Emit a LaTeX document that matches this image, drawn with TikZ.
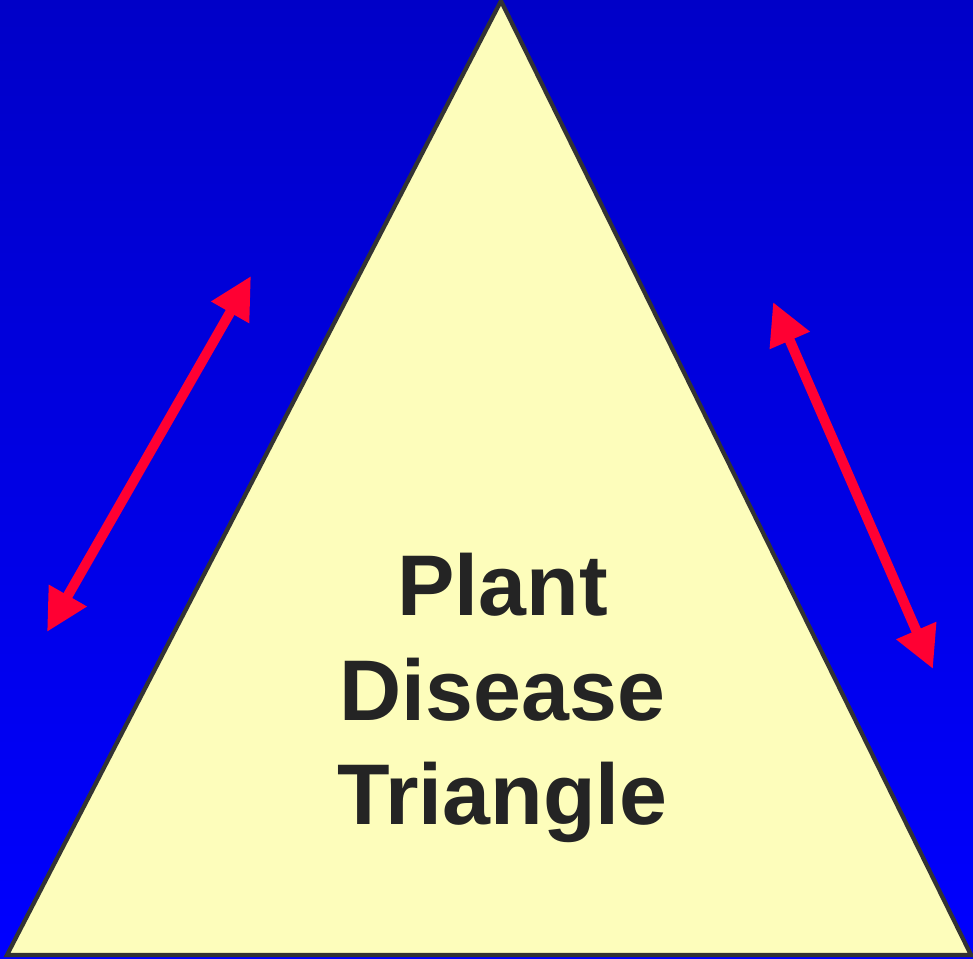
\documentclass[tikz,border=0pt]{standalone}
\usepackage{xcolor}
\usepackage{fontspec}
\setmainfont{Liberation Sans}
\usepackage{tikz}
\usetikzlibrary{arrows.meta, positioning, calc}
\definecolor{bgtop}{RGB}{0,0,200}
\definecolor{bgbot}{RGB}{0,0,255}
\definecolor{trifill}{RGB}{253,253,187}
\definecolor{arrred}{RGB}{255,0,51}
\definecolor{txtgray}{RGB}{36,36,36}
\tikzset{
	trianglebox/.style={draw=black!80, line width=1.2pt, fill=trifill, line join=miter},
	linkarr/.style={{Triangle[length=4.2mm, width=4.1mm]}-{Triangle[length=4.2mm, width=4.1mm]}, line width=1mm, arrred},
}

\begin{document}
\begin{tikzpicture}[
				title/.style={font=\fontsize{24.5}{29.8}\selectfont\bfseries, text=txtgray, align=center, inner sep=0pt}
				]
				\shade[top color=bgtop, bottom color=bgbot] (0,0) rectangle (9.73,9.59);
				\useasboundingbox (0,0) rectangle (9.73,9.59);
				% corners of the triangle
				\coordinate (top) at (5.01,9.58);
				\coordinate (bl) at (0.07,0.04);
				\coordinate (br) at (9.71,0.04);
				\draw[trianglebox] (top) -- (br) -- (bl) -- cycle;
				\node[title, anchor=base] (pdt) at (5.025,1.34) {Plant\\Disease\\Triangle};
				% arrows along the sides
				\coordinate (la) at (2.51,6.83);
				\coordinate (lb) at (0.47,3.27);
				\coordinate (ra) at (7.73,6.57);
				\coordinate (rb) at (9.33,2.90);
				\draw[linkarr] (lb) -- (la);
				\draw[linkarr] (ra) -- (rb);
			\end{tikzpicture}
\end{document}
